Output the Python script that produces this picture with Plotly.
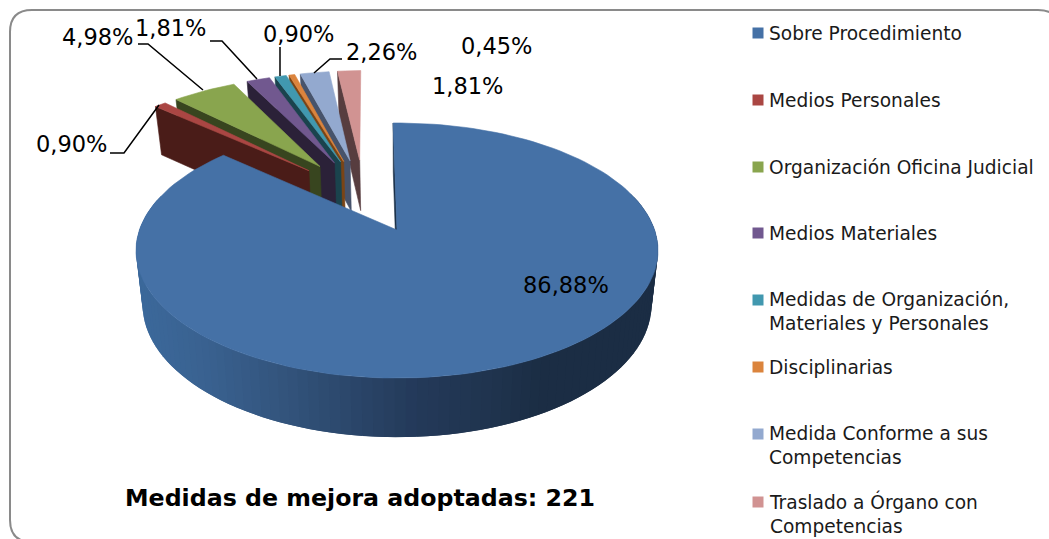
import math
import plotly.graph_objects as go

categories = ["Sobre Procedimiento", "Medios Personales", "Organización Oficina Judicial",
              "Medios Materiales", "Medidas de Organización,<br>Materiales y Personales",
              "Disciplinarias", "Medida Conforme a sus<br>Competencias",
              "Traslado a Órgano con<br>Competencias"]
values = [86.88, 0.90, 4.98, 1.81, 0.90, 0.45, 2.26, 1.81]
value_labels = ["86,88%", "0,90%", "4,98%", "1,81%", "0,90%", "0,45%", "2,26%", "1,81%"]
top_colors = ["#4571a6", "#aa4643", "#89a54e", "#71588f", "#4198af", "#db843d", "#93a9cf", "#d19392"]
side_colors = ["#1b3048", "#4a1c18", "#38451f", "#2b2138", "#1a434d", "#7a4415", "#47536b", "#573d3f"]
label_xy = [(566, 285), (71, 144), (97.5, 37), (170, 28), (298, 34), (496, 46), (381, 52), (467, 86)]
legend_y = [33, 100, 167, 233, 311, 367, 445, 513]
title_text = "Medidas de mejora adoptadas: 221"
FONT = "DejaVu Sans"

# perspective model of the pie, pixel-calibrated
APEX_X, APEX_Y = 397.0, 230.0
K, A, C = -0.161, 87.2, 257.6
EXPLODE = 0.324
START = -1.0


def project(u, v):
    w = 1 + K * v
    return APEX_X + C * u / w, (APEX_Y + A * v) / w


def base(x, y):
    return 399 + (x - 399) * 0.975, y + 44 + 0.04 * y


def polar(theta):
    t = math.radians(theta + START)
    return math.sin(t), -math.cos(t)


mid0 = values[0] / 2 * 3.6
cu, cv = polar(mid0)
cu, cv = -EXPLODE * cu, -EXPLODE * cv

fig = go.Figure()


def poly(pts, color, width=0.6):
    xs = [p[0] for p in pts] + [pts[0][0]]
    ys = [p[1] for p in pts] + [pts[0][1]]
    fig.add_trace(go.Scatter(x=xs, y=ys, mode="lines", fill="toself", fillcolor=color,
                             line=dict(color=color, width=width), hoverinfo="skip", showlegend=False))


def lerp_hex(stops, x):
    for (x0, c0), (x1, c1) in zip(stops, stops[1:]):
        if x <= x1:
            f = max(0, (x - x0) / (x1 - x0))
            return "rgb(%d,%d,%d)" % tuple(c0[i] + (c1[i] - c0[i]) * f for i in range(3))
    return "rgb(%d,%d,%d)" % tuple(stops[-1][1])


side_stops = [(136, (60, 105, 155)), (200, (58, 98, 145)), (280, (51, 84, 124)), (340, (44, 72, 108)),
              (410, (36, 58, 90)), (490, (32, 52, 78)), (540, (27, 45, 68)), (660, (27, 45, 68))]

angles = [0]
for val in values:
    angles.append(angles[-1] + val * 3.6)

slices = []
for i in range(len(values)):
    a0, a1 = angles[i], angles[i + 1]
    mu, mv = polar((a0 + a1) / 2)
    ou, ov = cu + EXPLODE * mu, cv + EXPLODE * mv
    n = max(3, int((a1 - a0) / 2))
    rim = []
    for j in range(n + 1):
        pu, pv = polar(a0 + (a1 - a0) * j / n)
        rim.append(project(ou + pu, ov + pv))
    slices.append((project(ou, ov), rim))

# exploded slices, back to front
for i in range(len(values) - 1, 0, -1):
    apex, rim = slices[i]
    poly([rim[0], apex, base(*apex), base(*rim[0])], side_colors[i])
    poly([apex] + rim, top_colors[i])

# main slice: shaded outer wall, cut face, top
apex, rim = slices[0]
a0, a1 = angles[0], angles[1]
N = 150
pts = []
for j in range(N + 1):
    pu, pv = polar(a0 + (a1 - a0) * j / N)
    pts.append(project(pu, pv))
for j in range(N - 1):
    p, q = pts[j], pts[j + 2]
    if p[1] > 200 or q[1] > 200:
        poly([p, q, base(*q), base(*p)], lerp_hex(side_stops, pts[j + 1][0]), width=0)
poly([rim[0], apex, base(*apex), base(*rim[0])], side_colors[0])
poly([apex] + pts, top_colors[0])

# legend swatches
fig.add_trace(go.Scatter(x=[758] * 8, y=[y - (11 if "<br>" in c else 0) for y, c in zip(legend_y, categories)],
                         mode="markers", hoverinfo="skip", showlegend=False,
                         marker=dict(symbol="square", size=11, color=top_colors, line=dict(width=0))))

ann = []
for (x, y), t in zip(label_xy, value_labels):
    ann.append(dict(x=x, y=y, text=t, showarrow=False, xref="x", yref="y",
                    font=dict(family=FONT, size=22.5, color="#000000")))
for y, t in zip(legend_y, categories):
    ann.append(dict(x=767, y=y, text=t, showarrow=False, xref="x", yref="y", xanchor="left", align="left",
                    font=dict(family=FONT, size=18.6, color="#1a1a1a")))
ann.append(dict(x=360, y=498, text="<b>%s</b>" % title_text, showarrow=False, xref="x", yref="y",
                font=dict(family=FONT, size=23.7, color="#000000")))

leaders = ["M110,153 L124,153 L159,105", "M138,44 L148,44 L203,90", "M210,41 L222,41 L257,79",
           "M280,47 L280,76", "M342,59 L330,59 L314,73"]
shapes = [dict(type="path", xref="x", yref="y", path=p, line=dict(color="#000000", width=1.5)) for p in leaders]
shapes.append(dict(type="path", xref="x", yref="y", layer="above",
                   path="M10,32 Q10,10 32,10 L1038,10 Q1060,10 1060,32 L1060,520 Q1060,542 1038,542 L32,542 Q10,542 10,520 Z",
                   line=dict(color="#8a8a8a", width=2)))

fig.update_layout(width=1049, height=539, margin=dict(l=0, r=0, t=0, b=0),
                  paper_bgcolor="#ffffff", plot_bgcolor="#ffffff", showlegend=False,
                  xaxis=dict(range=[0, 1049], visible=False, fixedrange=True),
                  yaxis=dict(range=[539, 0], visible=False, fixedrange=True),
                  annotations=ann, shapes=shapes)
fig.write_html("out.html", config={"displayModeBar": False},
               post_script="document.body.style.margin='0';")
